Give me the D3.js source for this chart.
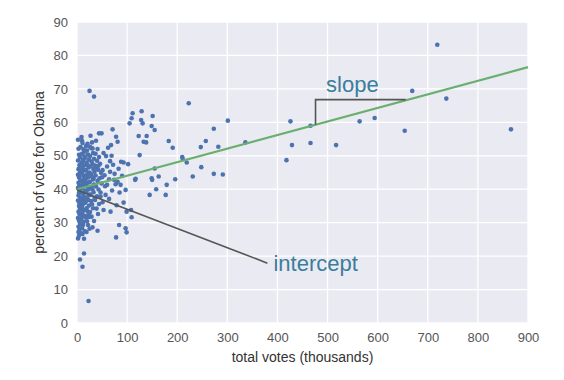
<!DOCTYPE html>
<html>
<head>
<meta charset="utf-8">
<style>
  body { margin: 0; background: #fff; }
  text { font-family: "Liberation Sans", Arial, sans-serif; }
  .tick text { font-size: 13px; fill: #555; }
  .axis-title { font-size: 14px; fill: #333; }
  .note { font-size: 22px; fill: #3b7d9c; }
</style>
</head>
<body>
<script src="https://cdn.jsdelivr.net/npm/d3@7/dist/d3.min.js"></script>
<script>
  // total votes (thousands) vs percent of vote for Obama
  var votes = [
    2,3,4,2,5,3,6,2,4,7,3,5,2,6,4,3,7,2,5,4,6,3,5,2,4,6,3,5,7,4,2,8,8,6,7,5,8,6,3,
    9,11,13,10,15,12,9,14,11,16,10,13,15,9,12,14,10,16,11,13,9,15,12,10,14,11,16,9,13,12,10,15,11,14,16,9,13,11,10,15,
    18,20,22,17,24,19,21,23,18,25,20,22,17,24,19,21,23,18,25,20,22,17,24,19,21,23,18,20,22,25,19,21,23,18,24,
    27,30,28,32,26,34,29,31,27,33,35,28,30,32,26,34,29,31,33,27,35,28,30,32,26,29,34,31,33,
    38,41,37,44,40,46,39,42,48,37,45,41,49,38,43,47,40,36,44,39,42,50,36,
    10,26,31,44,49,25,34,
    71,78,81,68,66,69,66,51,43,88,93,102,117,149,105,109,111,129,128,131,151,149,155,123,139,133,138,125,155,163,150,116,179,145,158,177,97,87,77,81,67,93,99,108,109,84,97,99,78,41,14,6,11,23,57,60,47,51,
    55,60,64,72,75,83,58,62,53,70,74,56,90,85,64,79,53,
    183,191,273,257,247,282,301,336,210,211,219,248,273,291,231,196,223,
    426,429,418,466,466,517,564,594,654,669,719,737,866
  ];
  var pct = [
    54.8,52.1,50.3,48.6,47.2,46.0,45.1,44.3,43.5,42.7,41.9,41.2,40.4,39.6,38.9,38.1,37.4,36.6,35.8,35.0,34.2,33.3,32.5,31.4,30.6,29.7,28.8,27.9,26.9,26.1,25.3,33.9,45.8,49.5,52.6,43.8,40.8,36.5,27.2,
    55.6,53.8,51.9,50.6,49.8,48.7,47.9,47.1,46.3,45.6,44.8,44.0,43.3,42.5,41.8,41.0,40.3,39.5,38.8,38.0,37.2,36.4,35.6,34.7,33.8,32.9,32.0,31.1,30.2,29.3,28.4,27.5,26.6,25.2,42.2,45.9,36.9,48.2,31.9,51.2,
    52.9,51.6,50.4,49.4,48.8,48.0,47.3,46.5,45.7,45.0,44.3,43.5,42.8,42.1,41.4,40.6,39.9,39.1,38.4,37.6,36.8,36.0,35.1,34.3,33.4,32.5,31.5,30.4,29.3,28.2,27.2,53.6,44.7,37.2,31.7,
    56.0,54.0,52.3,50.8,49.9,49.1,48.3,47.5,46.8,46.0,45.2,44.5,43.7,42.9,42.2,41.4,40.7,39.9,39.1,38.3,37.4,36.5,35.5,34.3,33.2,31.8,30.5,28.6,43.2,
    54.5,52.0,50.6,49.6,48.5,47.6,46.6,45.8,44.9,44.1,43.3,42.5,41.7,40.8,39.9,39.0,37.9,36.8,35.6,34.2,32.6,43.6,47.1,
    54.5,52.7,52.2,56.7,56.7,69.4,67.7,
    57.9,55.7,54.2,53.2,48.4,50.0,45.2,45.7,47.0,48.2,48.0,47.5,43.1,43.3,59.7,61.2,62.7,63.3,60.7,59.7,61.9,58.9,57.7,55.9,55.9,54.2,54.0,50.2,46.2,43.8,42.8,42.8,41.3,38.3,40.0,38.3,39.8,41.3,41.5,42.2,33.3,36.0,33.3,33.8,31.6,29.3,28.3,27.1,25.6,27.6,20.8,19.0,16.8,6.6,38.3,41.3,37.8,36.1,
    44.2,46.8,43.0,47.3,44.6,46.1,49.9,52.4,50.8,39.6,42.8,40.9,44.0,39.0,37.1,35.2,33.8,
    54.4,52.4,58.1,54.4,52.6,52.7,60.5,54.0,49.6,49.0,48.0,46.6,44.6,44.4,43.8,43.0,65.7,
    60.3,53.2,48.7,59.0,53.8,53.2,60.3,61.3,57.5,69.4,83.2,67.1,57.9
  ];
  var xTicks = [0, 100, 200, 300, 400, 500, 600, 700, 800, 900];
  var yTicks = [0, 10, 20, 30, 40, 50, 60, 70, 80, 90];
  var fitLine = [[0, 40.0], [900, 76.5]];
  var slopeMark = [[476, 59.3], [476, 66.8], [656, 66.8]];
  var slopeLabel = [497, 69.2];
  var interceptMark = [[0, 39.8], [380, 17.9]];
  var interceptLabel = [392, 15.6];

  var W = 564, H = 380;
  var margin = { top: 22, right: 36, bottom: 57, left: 77 },
    width = W - margin.left - margin.right,
    height = H - margin.top - margin.bottom;

  var svg = d3.select('body').append('svg')
    .attr('width', W)
    .attr('height', H);

  var main = svg.append('g')
    .attr('transform', 'translate(' + margin.left + ',' + margin.top + ')');

  var x = d3.scaleLinear().domain([0, 900]).range([0, width]);
  var y = d3.scaleLinear().domain([0, 90]).range([height, 0]);

  main.append('rect')
    .attr('width', width)
    .attr('height', height)
    .attr('fill', '#eaeaf2');

  // grid
  main.append('g').selectAll('line').data(xTicks).enter().append('line')
    .attr('x1', function(d) { return x(d); })
    .attr('x2', function(d) { return x(d); })
    .attr('y1', 0).attr('y2', height)
    .attr('stroke', '#fff').attr('stroke-width', 1.3);
  main.append('g').selectAll('line').data(yTicks).enter().append('line')
    .attr('y1', function(d) { return y(d); })
    .attr('y2', function(d) { return y(d); })
    .attr('x1', 0).attr('x2', width)
    .attr('stroke', '#fff').attr('stroke-width', 1.3);

  // axes (labels only)
  var xAxis = main.append('g')
    .attr('transform', 'translate(0,' + height + ')')
    .call(d3.axisBottom(x).tickValues(xTicks).tickSize(0).tickPadding(10));
  var yAxis = main.append('g')
    .call(d3.axisLeft(y).tickValues(yTicks).tickSize(0).tickPadding(9));
  xAxis.select('.domain').remove();
  yAxis.select('.domain').remove();
  main.selectAll('.tick text').attr('font-family', null);

  // points
  var pts = votes.map(function(v, i) { return [v, pct[i]]; });
  main.append('g').selectAll('circle').data(pts).enter().append('circle')
    .attr('cx', function(d) { return x(d[0]); })
    .attr('cy', function(d) { return y(d[1]); })
    .attr('r', 2.3)
    .attr('fill', '#4c72b0');

  var line = d3.line()
    .x(function(d) { return x(d[0]); })
    .y(function(d) { return y(d[1]); });

  main.append('path')
    .datum(fitLine)
    .attr('d', line)
    .attr('fill', 'none')
    .attr('stroke', '#6aaf6f')
    .attr('stroke-width', 2.2);

  main.append('path')
    .datum(slopeMark)
    .attr('d', line)
    .attr('fill', 'none')
    .attr('stroke', '#555')
    .attr('stroke-width', 1.6);

  main.append('path')
    .datum(interceptMark)
    .attr('d', line)
    .attr('fill', 'none')
    .attr('stroke', '#555')
    .attr('stroke-width', 1.6);

  main.append('text')
    .attr('class', 'note')
    .attr('x', x(slopeLabel[0]))
    .attr('y', y(slopeLabel[1]))
    .text('slope');

  main.append('text')
    .attr('class', 'note')
    .attr('x', x(interceptLabel[0]))
    .attr('y', y(interceptLabel[1]))
    .text('intercept');

  // axis titles
  svg.append('text')
    .attr('class', 'axis-title')
    .attr('x', margin.left + width / 2)
    .attr('y', 362)
    .attr('text-anchor', 'middle')
    .text('total votes (thousands)');

  svg.append('text')
    .attr('class', 'axis-title')
    .attr('transform', 'translate(44,' + (margin.top + height / 2) + ') rotate(-90)')
    .attr('text-anchor', 'middle')
    .text('percent of vote for Obama');
</script>
</body>
</html>
